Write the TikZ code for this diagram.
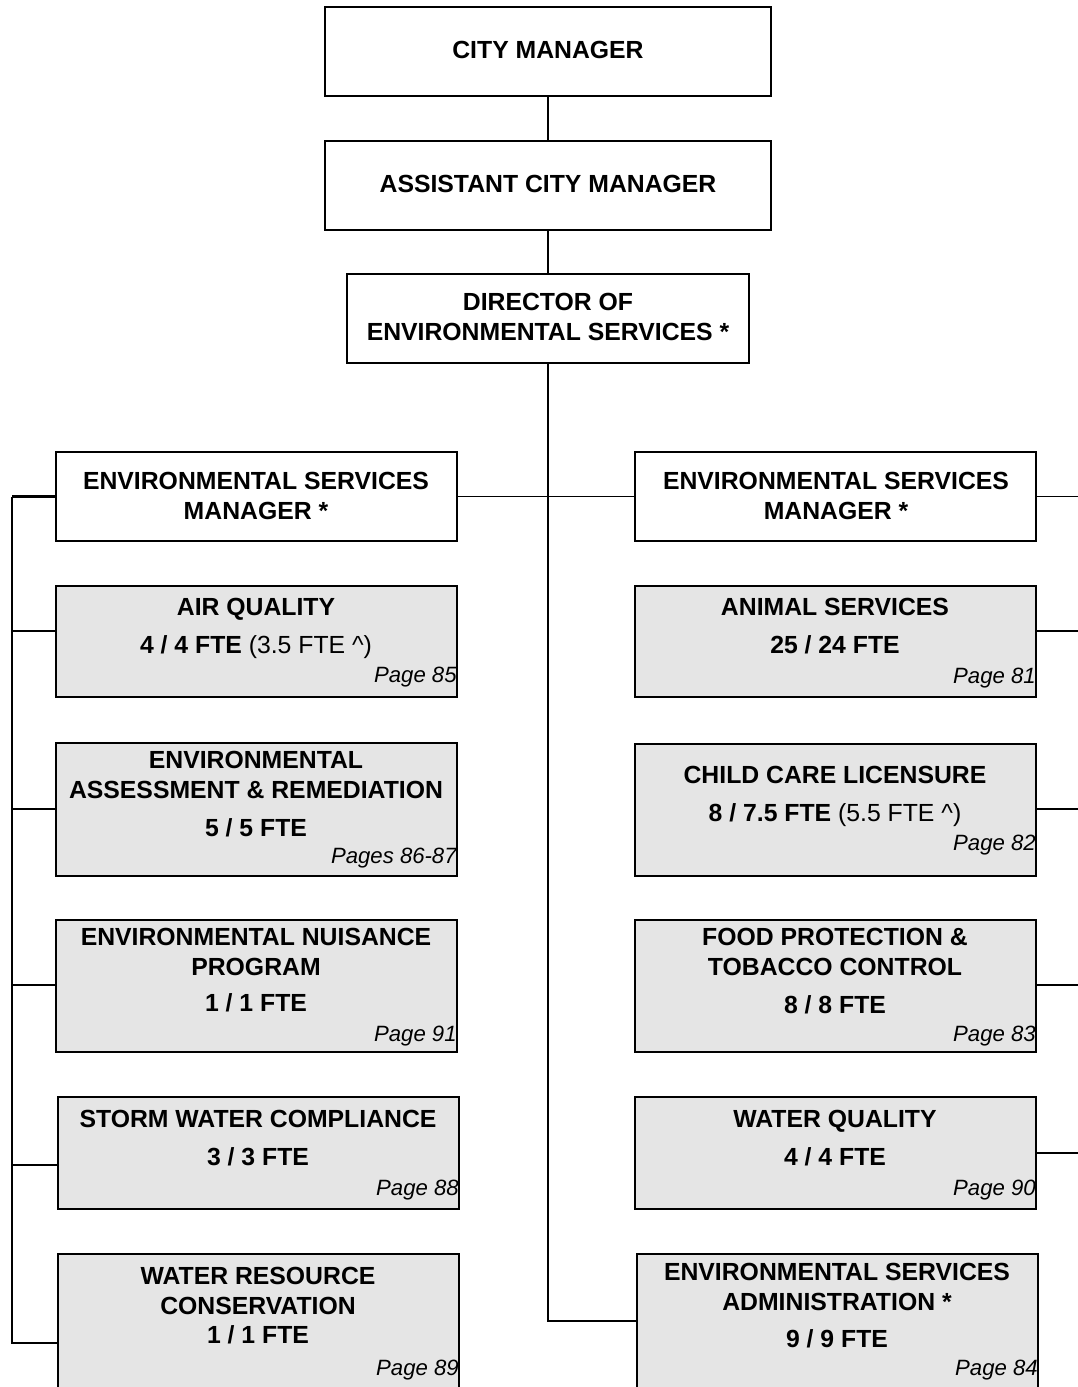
\documentclass[tikz,border=0pt]{standalone}
\usepackage{fontspec}
\setmainfont{Liberation Sans}
\usepackage{xcolor}
\usepackage{tikz}

\definecolor{unitgray}{gray}{0.9}

\tikzset{
  box/.style={draw, line width=0.85pt, inner sep=0pt, minimum width=8.02cm, minimum height=1.78cm},
  unit/.style={box, fill=unitgray},
  ttl/.style={font=\fontsize{14.1}{17}\selectfont\bfseries, text height=10.1pt, text depth=0pt, inner sep=0pt},
  pg/.style={font=\fontsize{12.6}{15}\selectfont\itshape, text height=9pt, text depth=0pt, inner sep=0pt, anchor=east},
  link/.style={line width=0.85pt}
}

\begin{document}
\begin{tikzpicture}[x=0.02cm,y=-0.02cm]
  \useasboundingbox (0,0) rectangle (1078,1387);
  \clip (0,0) rectangle (1078,1387);

  % management chain
  \node[box, minimum width=8.92cm] (cm)  at (548,51.5)  {};
  \node[box, minimum width=8.92cm] (acm) at (548,185.5) {};
  \node[box, minimum width=8.04cm] (dir) at (548,318.5) {};
  \node[box] (esmL) at (256.5,496.5) {};
  \node[box] (esmR) at (835.5,496.5) {};

  \node[ttl] (cm-t)   at (548,50)  {CITY MANAGER};
  \node[ttl] (acm-t)  at (548,184) {ASSISTANT CITY MANAGER};
  \node[ttl] (dir-t1) at (548,302) {DIRECTOR OF};
  \node[ttl] (dir-t2) at (548,332) {ENVIRONMENTAL SERVICES *};
  \node[ttl] (esmL-t1) at (256,481) {ENVIRONMENTAL SERVICES};
  \node[ttl] (esmL-t2) at (256,511) {MANAGER *};
  \node[ttl] (esmR-t1) at (836,481) {ENVIRONMENTAL SERVICES};
  \node[ttl] (esmR-t2) at (836,511) {MANAGER *};

  % left units
  \node[unit, minimum height=2.22cm] (aq)  at (256.5,641.5) {};
  \node[unit, minimum height=2.66cm] (ear) at (256.5,809.5) {};
  \node[unit, minimum height=2.64cm] (enp) at (256.5,986)   {};
  \node[unit, minimum height=2.24cm] (swc) at (258.5,1153)  {};
  \node[unit, minimum height=2.90cm] (wrc) at (258.5,1326.5) {};

  \node[ttl] (aq-t)  at (256,607) {AIR QUALITY};
  \node[ttl] (aq-f)  at (256,645) {4 / 4 FTE \mdseries(3.5 FTE \^{})};
  \node[pg]  (aq-p)  at (457,675) {Page 85};
  \node[ttl] (ear-t1) at (256,760) {ENVIRONMENTAL};
  \node[ttl] (ear-t2) at (256,790) {ASSESSMENT \& REMEDIATION};
  \node[ttl] (ear-f)  at (256,828) {5 / 5 FTE};
  \node[pg]  (ear-p)  at (457,856) {Pages 86-87};
  \node[ttl] (enp-t1) at (256,937) {ENVIRONMENTAL NUISANCE};
  \node[ttl] (enp-t2) at (256,967) {PROGRAM};
  \node[ttl] (enp-f)  at (256,1003) {1 / 1 FTE};
  \node[pg]  (enp-p)  at (457,1034) {Page 91};
  \node[ttl] (swc-t)  at (258,1119) {STORM WATER COMPLIANCE};
  \node[ttl] (swc-f)  at (258,1157) {3 / 3 FTE};
  \node[pg]  (swc-p)  at (459,1188) {Page 88};
  \node[ttl] (wrc-t1) at (258,1276) {WATER RESOURCE};
  \node[ttl] (wrc-t2) at (258,1306) {CONSERVATION};
  \node[ttl] (wrc-f)  at (258,1335) {1 / 1 FTE};
  \node[pg]  (wrc-p)  at (459,1368) {Page 89};

  % right units
  \node[unit, minimum height=2.22cm] (anim) at (835.5,641.5) {};
  \node[unit, minimum height=2.64cm] (ccl)  at (835.5,810)   {};
  \node[unit, minimum height=2.64cm] (fpt)  at (835.5,986)   {};
  \node[unit, minimum height=2.24cm] (wq)   at (835.5,1153)  {};
  \node[unit, minimum height=2.90cm] (esa)  at (837.5,1326.5) {};

  \node[ttl] (anim-t) at (835,607) {ANIMAL SERVICES};
  \node[ttl] (anim-f) at (835,645) {25 / 24 FTE};
  \node[pg]  (anim-p) at (1036,676) {Page 81};
  \node[ttl] (ccl-t)  at (835,775) {CHILD CARE LICENSURE};
  \node[ttl] (ccl-f)  at (835,813) {8 / 7.5 FTE \mdseries(5.5 FTE \^{})};
  \node[pg]  (ccl-p)  at (1036,843) {Page 82};
  \node[ttl] (fpt-t1) at (835,937) {FOOD PROTECTION \&};
  \node[ttl] (fpt-t2) at (835,967) {TOBACCO CONTROL};
  \node[ttl] (fpt-f)  at (835,1005) {8 / 8 FTE};
  \node[pg]  (fpt-p)  at (1036,1034) {Page 83};
  \node[ttl] (wq-t)   at (835,1119) {WATER QUALITY};
  \node[ttl] (wq-f)   at (835,1157) {4 / 4 FTE};
  \node[pg]  (wq-p)   at (1036,1188) {Page 90};
  \node[ttl] (esa-t1) at (837,1272) {ENVIRONMENTAL SERVICES};
  \node[ttl] (esa-t2) at (837,1302) {ADMINISTRATION *};
  \node[ttl] (esa-f)  at (837,1339) {9 / 9 FTE};
  \node[pg]  (esa-p)  at (1038,1368) {Page 84};

  % connectors
  \coordinate (ltop)  at (12,496.5);
  \coordinate (lbot)  at (12,1343);
  \coordinate (rbus)  at (1090,496.5);
  \coordinate (esaIn) at (637,1321);
  \draw[link] (cm) -- (acm);
  \draw[link] (acm) -- (dir);
  \draw[link] (dir) |- (esaIn);
  \draw[link] (esmL) -- (esmR);
  \draw[line width=1.7pt] (esmL.west) -- (ltop);
  \draw[link] (ltop) -- (lbot) -- (wrc.west |- lbot);
  \foreach \n/\y in {aq/631, ear/809, enp/985, swc/1165}
    \draw[link] (ltop |- 0,\y) -- (\n.west |- 0,\y);
  \draw[link] (esmR.east) -- (rbus);
  \foreach \n/\y in {anim/631, ccl/809, fpt/985, wq/1153}
    \draw[link] (\n.east |- 0,\y) -- (rbus |- 0,\y);
\end{tikzpicture}
\end{document}
